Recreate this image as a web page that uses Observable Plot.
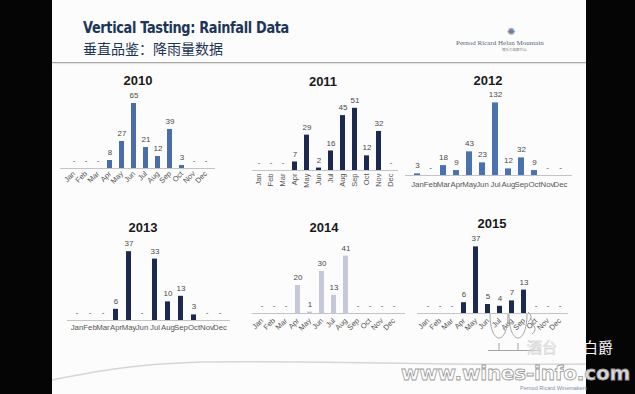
<!DOCTYPE html>
<html><head><meta charset="utf-8">
<script src="https://cdn.jsdelivr.net/npm/d3@7"></script>
<script src="https://cdn.jsdelivr.net/npm/@observablehq/plot@0.6"></script>
<style>
body{margin:0;background:#000;}
#page{position:relative;width:635px;height:394px;overflow:hidden;background:#050505;font-family:"Liberation Sans",Arial,sans-serif;}
#slide{position:absolute;left:52px;top:0;width:534px;height:394px;background:#fcfcfc;}
#page svg.plotlayer{position:absolute;left:0;top:0;}
.abs{position:absolute;white-space:nowrap;line-height:1;}
.yr{font-weight:bold;font-size:13px;color:#1a1a1a;transform:translateX(-50%);}
</style></head>
<body><div id="page"><div id="slide"></div></div>
<script>
// ---- data ----
const months = ["Jan","Feb","Mar","Apr","May","Jun","Jul","Aug","Sep","Oct","Nov","Dec"];
const years = ["2010","2011","2012","2013","2014","2015"];
const rain2010 = [0,0,0,8,27,65,21,12,39,3,0,0];
const rain2011 = [0,0,0,7,29,2,16,45,51,12,32,0];
const rain2012 = [3,0,18,9,43,23,132,12,32,9,0,0];
const rain2013 = [0,0,0,6,37,0,33,10,13,3,0,0];
const rain2014 = [0,0,0,20,1,30,13,41,0,0,0,0];
const rain2015 = [0,0,0,6,37,5,4,7,13,0,0,0];
const rainByYear = [rain2010, rain2011, rain2012, rain2013, rain2014, rain2015];

// ---- layout (positions & styles) ----
const layout = [
  {c0:68.6, step:12.8, w:5, base:168, k:1.0,  l0:60,  l1:215, rot:-45, pad:4, fill:"#4a6fa8", tx:138, ty:74},
  {c0:257.7,step:12.1, w:5, base:170, k:1.22, l0:252, l1:398, rot:-90, pad:3, fill:"#1c2951", tx:323, ty:75},
  {c0:414,  step:13.6, w:6, base:175, k:0.55, l0:405, l1:572, rot:0,   pad:6, fill:"#4a72ac", tx:488, ty:74},
  {c0:73.4, step:13.6, w:5.5,base:320,k:1.86, l0:67,  l1:230, rot:0,   pad:4, fill:"#1c2951", tx:143, ty:221},
  {c0:256,  step:13,   w:5, base:313, k:1.4,  l0:252, l1:405, rot:-45, pad:6, fill:"#c5c8da", tx:324, ty:221},
  {c0:424,  step:12.65,w:5, base:313, k:1.8,  l0:417, l1:568, rot:-45, pad:6, fill:"#1c2951", tx:492, ty:217}
];

const page = document.getElementById("page");

function add(html, css, cls){
  const d = document.createElement("div");
  d.className = "abs " + (cls||"");
  d.style.cssText = css;
  d.innerHTML = html;
  page.appendChild(d);
  return d;
}

// header
add("Vertical Tasting: Rainfall Data","left:83px;top:20.5px;font-family:'DejaVu Sans',sans-serif;font-weight:bold;font-size:15px;color:#1d3557;letter-spacing:-0.4px;transform:scaleX(0.86);transform-origin:left;");
add("垂直品鉴：降雨量数据","left:83px;top:41px;font-family:'Noto Sans CJK SC',sans-serif;font-size:14px;color:#1d3557;");
add("✺","left:507px;top:27px;font-size:10px;color:#6b7a99;");
add("Pernod Ricard Helan Mountain","left:456px;top:40px;font-family:'Liberation Serif',serif;font-size:7px;color:#5a6478;");
add("保乐力加贺兰山","left:502px;top:48px;font-family:'Noto Sans CJK SC',sans-serif;font-size:3.5px;color:#777;");
add("","left:52px;top:62px;width:534px;height:0;border-top:1.5px solid #a9a9a9;box-shadow:0 1px 1px #ddd;");

// decorative bottom curve
add('<svg width="534" height="40"><path d="M0,22 C40,14 80,6 150,4 C260,2 400,8 534,6" fill="none" stroke="#d6d6d6" stroke-width="1.5"/></svg>',"left:52px;top:358px;");

// charts
rainByYear.forEach((vals, i) => {
  const L = layout[i];
  const p = 1 - L.w / L.step;
  const r0 = L.c0 - L.step * (1 + p) / 2;
  const r1 = r0 + L.step * (12 + p);
  const data = months.map((m, j) => ({month: m, value: vals[j]}));
  const ymax = 150;
  const chart = Plot.plot({
    width: 635, height: 394,
    marginLeft: L.l0, marginRight: 635 - L.l1, marginTop: 0, marginBottom: 394 - L.base,
    style: {background: "transparent", overflow: "visible", fontFamily: "'Liberation Sans', Arial, sans-serif"},
    x: {type: "band", domain: months, range: [r0, r1], paddingInner: p, paddingOuter: p},
    y: {domain: [0, ymax], range: [L.base, L.base - ymax * L.k], axis: null},
    marks: [
      Plot.ruleY([0], {stroke: "#c4c4c4", strokeWidth: 1}),
      Plot.barY(data, {x: "month", y: "value", fill: L.fill}),
      Plot.text(data, {x: "month", y: "value", text: d => d.value ? String(d.value) : "-", dy: -8, fontSize: 8, fill: "#4a4a4a"}),
      Plot.axisX({tickSize: 0, tickPadding: L.pad, tickRotate: L.rot, fontSize: L.rot ? 7.5 : 7.8, fill: "#555", label: null})
    ]
  });
  chart.classList.add("plotlayer");
  page.appendChild(chart);
  add(years[i], `left:${L.tx}px;top:${L.ty}px;`, "yr");
});

// watermark hooks near the 2015 panel
add('<svg width="70" height="60"><g fill="none" stroke="#9a9a9a" stroke-width="0.9">' +
    '<path d="M3,2 C3,34 21,34 21,2"/><path d="M22,2 C22,34 40,34 40,2"/>' +
    '<path d="M41,0 C46,4 44,8 41,10 M43,6 C48,10 46,14 43,16 M45,12 C50,16 48,20 45,22"/>' +
    '<path d="M12,31 L12,38 M31,31 L31,38"/><path d="M1,38.5 L54,38.5"/></g></svg>',
    "left:487px;top:312px;");

// watermark
add("酒台","left:527px;top:339px;font-family:'Noto Sans CJK SC',sans-serif;font-size:15px;color:rgba(255,255,255,0.6);-webkit-text-stroke:0.5px #c8c8c8;");
add("白爵","left:583px;top:339px;font-family:'Noto Sans CJK SC',sans-serif;font-size:15px;color:#f4f4f4;");
add("www.wines-info.com","left:401px;top:363px;font-family:'DejaVu Sans',sans-serif;font-weight:bold;font-size:20px;color:rgba(255,255,255,0.85);-webkit-text-stroke:0.8px #9a9a9a;letter-spacing:-0.2px;");
add("Pernod Ricard Winemakers","left:520px;top:386px;font-size:5.5px;color:#8090a8;");
</script>
</body></html>
